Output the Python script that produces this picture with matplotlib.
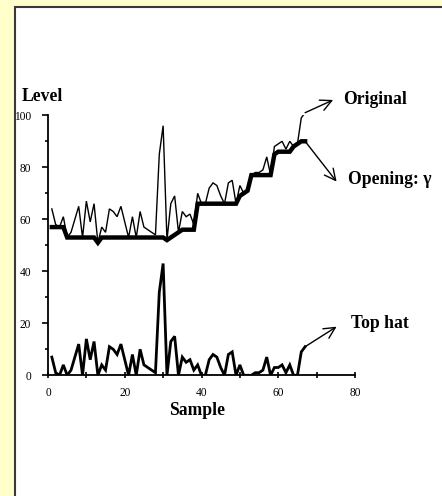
import matplotlib
matplotlib.use("Agg")
import matplotlib.pyplot as plt
from matplotlib.patches import Rectangle

samples = list(range(1, 68))
original = [64, 58, 57, 61, 53, 55, 60, 65, 53, 67,
            59, 66, 51, 57, 55, 64, 63, 61, 65, 59,
            53, 61, 53, 63, 57, 56, 55, 54, 85, 96,
            52, 66, 69, 55, 63, 61, 62, 58, 70, 66,
            66, 72, 74, 73, 69, 66, 74, 75, 66, 73,
            70, 71, 77, 78, 78, 79, 84, 77, 88, 89,
            90, 87, 90, 88, 89, 99, 101]
opening = [57, 57, 57, 57, 53, 53, 53, 53, 53, 53,
           53, 53, 51, 53, 53, 53, 53, 53, 53, 53,
           53, 53, 53, 53, 53, 53, 53, 53, 53, 53,
           52, 53, 54, 55, 56, 56, 56, 56, 66, 66,
           66, 66, 66, 66, 66, 66, 66, 66, 66, 69,
           70, 71, 77, 77, 77, 77, 77, 77, 85, 86,
           86, 86, 86, 88, 89, 90, 90]
tophat = [7, 1, 0, 4, 0, 2, 7, 12, 0, 14,
          6, 13, 0, 4, 2, 11, 10, 8, 12, 6,
          0, 8, 0, 10, 4, 3, 2, 1, 32, 43,
          0, 13, 15, 0, 7, 5, 6, 2, 4, 0,
          0, 6, 8, 7, 3, 0, 8, 9, 0, 4,
          0, 0, 0, 1, 1, 2, 7, 0, 3, 3,
          4, 1, 4, 0, 0, 9, 11]
x_ticks = [0, 20, 40, 60, 80]
y_ticks = [0, 20, 40, 60, 80, 100]

W, H = 442, 496
fig = plt.figure(figsize=(W / 100, H / 100), dpi=100, facecolor="#FFFFCC")
serif = "Liberation Serif"

# white panel (behind everything)
bg = fig.add_axes([0, 0, 1, 1], zorder=-5)
bg.set_axis_off()
bg.set_xlim(0, W)
bg.set_ylim(H, 0)
bg.add_patch(Rectangle((15, 7), 500, 600, facecolor="white",
                       edgecolor="#3a3a3a", lw=1.5))

ax = fig.add_axes([48 / W, (H - 375.3) / H, 307 / W, 260 / H], zorder=1)
ax.set_facecolor("none")
ax.set_xlim(0, 80)
ax.set_ylim(0, 100)
for s in ["top", "right"]:
    ax.spines[s].set_visible(False)
for s in ["left", "bottom"]:
    ax.spines[s].set_linewidth(1.3)
    ax.spines[s].set_color("black")

ax.plot(samples, original, color="black", lw=1.0, solid_joinstyle="miter", zorder=3)
ax.plot(samples, opening, color="black", lw=3.2, solid_joinstyle="miter", zorder=4)
ax.plot(samples, tophat, color="black", lw=2.0, solid_joinstyle="miter", zorder=3)

ax.set_xticks(x_ticks)
ax.set_xticks([10, 30, 50, 70], minor=True)
ax.set_yticks(y_ticks)
ax.set_yticks([10, 30, 50, 70, 90], minor=True)
ax.set_xticklabels([str(v) for v in x_ticks], fontfamily=serif, fontsize=8.3)
ax.set_yticklabels([str(v) for v in y_ticks], fontfamily=serif, fontsize=8.3)
ax.tick_params(axis="x", which="both", direction="inout", length=5, width=1.2, pad=6)
ax.tick_params(axis="y", which="major", direction="out", length=4, width=1.2, pad=8)
ax.tick_params(axis="y", which="minor", direction="out", length=2.5, width=1.2)

bold = dict(fontfamily=serif, fontweight="bold", fontsize=12.7, color="black")
fig.text(21.7 / W, 1 - 96.7 / H, "Level", ha="left", va="center", **bold)
fig.text(197.4 / W, 1 - 410.7 / H, "Sample", ha="center", va="center", **bold)
fig.text(343.3 / W, 1 - 100 / H, "Original", ha="left", va="center", **bold)
fig.text(348.3 / W, 1 - 180 / H, "Opening: \u03b3", ha="left", va="center", **bold)
fig.text(350.7 / W, 1 - 324 / H, "Top hat", ha="left", va="center", **bold)

arrow = dict(arrowstyle="->", lw=1.0, color="black", mutation_scale=20,
             shrinkA=0, shrinkB=0)
ax.annotate("", xy=(74.3, 105.9), xytext=(samples[-1], original[-1]),
            arrowprops=arrow, annotation_clip=False)
ax.annotate("", xy=(75.2, 74.5), xytext=(samples[-1], opening[-1]),
            arrowprops=arrow, annotation_clip=False)
ax.annotate("", xy=(75.2, 18.7), xytext=(samples[-1], tophat[-1]),
            arrowprops=arrow, annotation_clip=False)

fig.savefig("out.png", dpi=100, facecolor=fig.get_facecolor())
